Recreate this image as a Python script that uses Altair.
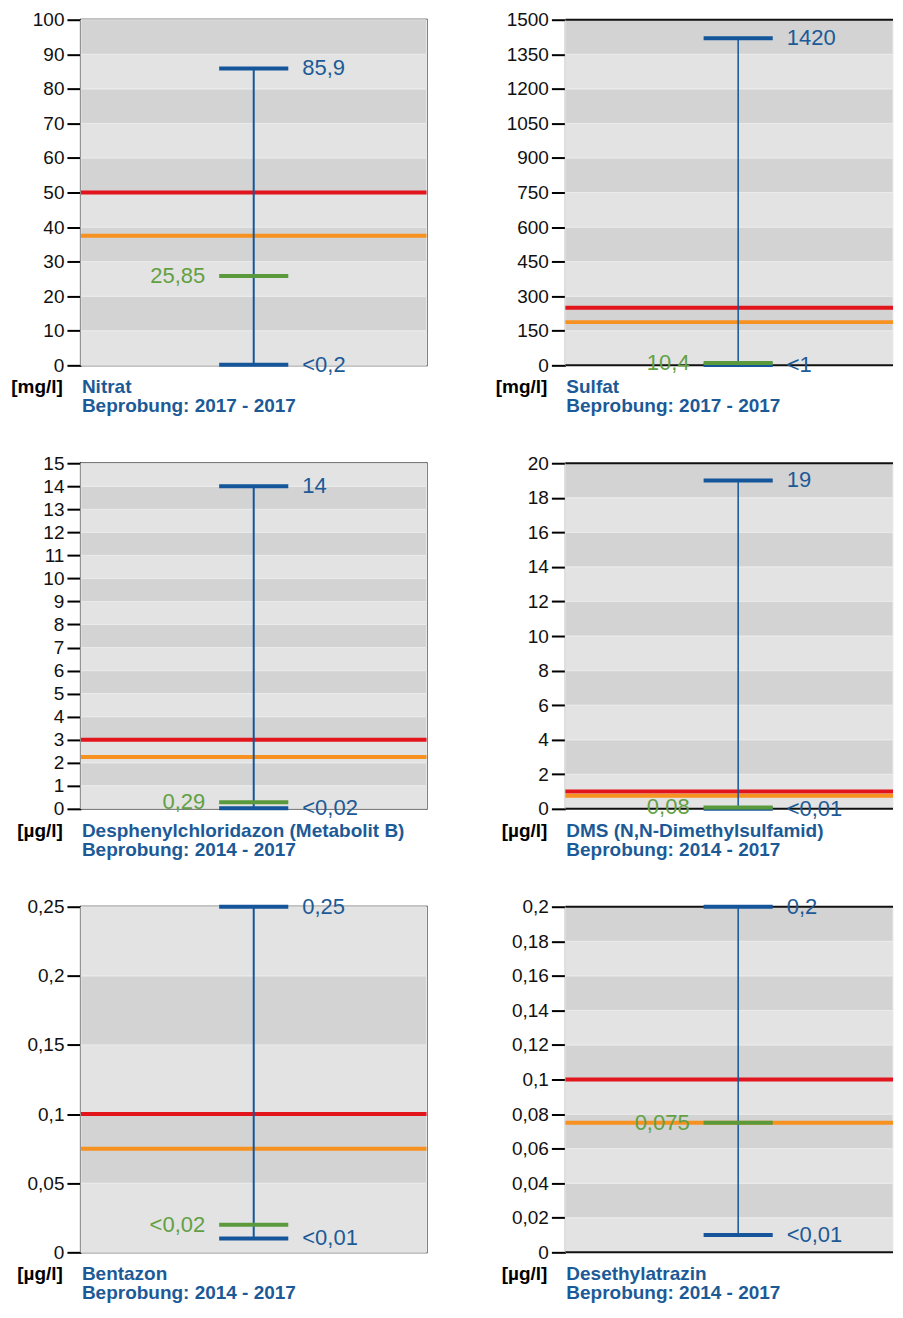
import altair as alt
import pandas as pd

# ---------------- data ----------------
names = ["Nitrat", "Sulfat", "Desphenylchloridazon (Metabolit B)",
         "DMS (N,N-Dimethylsulfamid)", "Bentazon", "Desethylatrazin"]
units = ["[mg/l]", "[mg/l]", "[µg/l]", "[µg/l]", "[µg/l]", "[µg/l]"]
periods = ["Beprobung: 2017 - 2017", "Beprobung: 2017 - 2017",
           "Beprobung: 2014 - 2017", "Beprobung: 2014 - 2017",
           "Beprobung: 2014 - 2017", "Beprobung: 2014 - 2017"]
axis_max = [100, 1500, 15, 20, 0.25, 0.2]
tick_step = [10, 150, 1, 2, 0.05, 0.02]
max_values = [85.9, 1420, 14, 19, 0.25, 0.2]
min_values = [0.2, 1, 0.02, 0.01, 0.01, 0.01]
median_values = [25.85, 10.4, 0.29, 0.08, 0.02, 0.075]
max_labels = ["85,9", "1420", "14", "19", "0,25", "0,2"]
min_labels = ["<0,2", "<1", "<0,02", "<0,01", "<0,01", "<0,01"]
median_labels = ["25,85", "10,4", "0,29", "0,08", "<0,02", "0,075"]
limit_values = [50, 250, 3, 1, 0.1, 0.1]
warning_values = [37.5, 187.5, 2.25, 0.75, 0.075, 0.075]

# ---------------- style ----------------
W = H = 346          # full panel size
W_RIGHT = 328        # right column is cut off at the page edge
FONT = "Liberation Sans"
BLUE_LINE = "#15569a"
BLUE_TEXT = "#1c5a97"
GREEN = "#5b9a3c"
GREEN_TEXT = "#62a043"
RED = "#e2141c"
ORANGE = "#f7911f"
DARK = "#d3d3d3"
LIGHT = "#e3e3e3"
FRAME = "#111111"


def panel(i):
    col = i % 2
    width = W if col == 0 else W_RIGHT
    n = int(round(axis_max[i] / tick_step[i]))
    ticks = [round(k * tick_step[i], 6) for k in range(n + 1)]
    ticks = [int(t) if float(t).is_integer() else t for t in ticks]
    xscale = alt.Scale(domain=[0, width / W], nice=False, zero=False)
    yscale = alt.Scale(domain=[0, axis_max[i]], nice=False, zero=True)
    yaxis = alt.Axis(
        values=ticks,
        labelExpr="replace(toString(datum.value), '.', ',')",
        title=None, grid=False, labelFlush=False, labelOverlap=False,
        domainColor="black", domainWidth=2,
        tickColor="black", tickWidth=2, tickSize=14,
        labelFont=FONT, labelFontSize=19, labelColor="#111111",
        labelPadding=3)

    def Y(field):
        return alt.Y(field, scale=yscale, axis=yaxis)

    def X(field):
        return alt.X(field, scale=xscale, axis=None)

    bands = pd.DataFrame({
        "y0": ticks[:-1], "y1": ticks[1:],
        "fill": [DARK if k % 2 else LIGHT for k in range(n)],
        "xa": 0.0, "xb": width / W,
    })
    band_layer = alt.Chart(bands).mark_rect(stroke="#ebebeb", strokeWidth=1).encode(
        x=X("xa:Q"), x2="xb:Q", y=Y("y0:Q"), y2="y1:Q",
        fill=alt.Fill("fill:N", scale=None),
    )

    layers = [band_layer]

    if col == 1:
        frame = pd.DataFrame({"v": [0, axis_max[i]]})
        layers.append(alt.Chart(frame).mark_rule(color=FRAME, strokeWidth=2).encode(
            y=Y("v:Q")))

    thr = pd.DataFrame({"v": [limit_values[i], warning_values[i]],
                        "c": [RED, ORANGE]})
    layers.append(alt.Chart(thr).mark_rule(strokeWidth=4).encode(
        y=Y("v:Q"), color=alt.Color("c:N", scale=None)))

    rng = pd.DataFrame({"vmin": [min_values[i]], "vmax": [max_values[i]], "xc": [0.5]})
    layers.append(alt.Chart(rng).mark_rule(
        color=BLUE_LINE, strokeWidth=2 if col == 0 else 1.5).encode(
        x=X("xc:Q"), y=Y("vmin:Q"), y2="vmax:Q"))

    caps = pd.DataFrame({
        "v": [max_values[i], min_values[i], median_values[i]],
        "c": [BLUE_LINE, BLUE_LINE, GREEN],
        "xl": 0.4, "xr": 0.6,
    })
    layers.append(alt.Chart(caps).mark_rule(strokeWidth=4).encode(
        x=X("xl:Q"), x2="xr:Q", y=Y("v:Q"),
        color=alt.Color("c:N", scale=None)))

    rlab = pd.DataFrame({"v": [max_values[i], min_values[i]],
                         "t": [max_labels[i], min_labels[i]], "x": 0.6})
    layers.append(alt.Chart(rlab).mark_text(
        align="left", baseline="middle", dx=14, font=FONT, fontSize=22,
        color=BLUE_TEXT).encode(x=X("x:Q"), y=Y("v:Q"), text="t:N"))

    llab = pd.DataFrame({"v": [median_values[i]], "t": [median_labels[i]], "x": 0.4})
    layers.append(alt.Chart(llab).mark_text(
        align="right", baseline="middle", dx=-14, font=FONT, fontSize=22,
        color=GREEN_TEXT).encode(x=X("x:Q"), y=Y("v:Q"), text="t:N"))

    info = pd.DataFrame({"unit": [units[i]], "name": [names[i]], "period": [periods[i]]})
    layers.append(alt.Chart(info).mark_text(
        align="right", baseline="alphabetic", font=FONT, fontSize=19,
        fontWeight="bold", color="black").encode(
        x=alt.value(-18), y=alt.value(H + 28), text="unit:N"))
    layers.append(alt.Chart(info).mark_text(
        align="left", baseline="alphabetic", font=FONT, fontSize=19,
        fontWeight="bold", color=BLUE_TEXT).encode(
        x=alt.value(1), y=alt.value(H + 28), text="name:N"))
    layers.append(alt.Chart(info).mark_text(
        align="left", baseline="alphabetic", font=FONT, fontSize=19,
        fontWeight="bold", color=BLUE_TEXT).encode(
        x=alt.value(1), y=alt.value(H + 47), text="period:N"))

    ch = alt.layer(*layers).properties(width=width, height=H)
    if col == 1:
        ch = ch.properties(view=alt.ViewBackground(stroke=None))
    return ch


chart = alt.concat(
    *[panel(i) for i in range(6)], columns=2,
    spacing={"row": 98, "column": 139}, bounds="flush",
).properties(
    padding={"left": 2, "top": 1, "right": 0, "bottom": 0},
    background="white",
).configure_view(
    stroke=FRAME, strokeWidth=2,
)

chart.save("out.html", embed_options={"renderer": "svg", "actions": False})
